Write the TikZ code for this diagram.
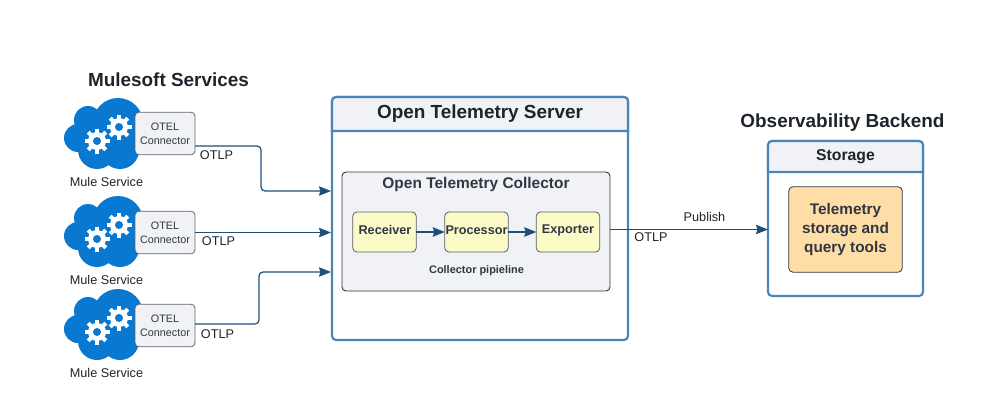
\documentclass[tikz,border=0pt]{standalone}
\usepackage{fontspec}
\setmainfont{Liberation Sans}
\usepackage{xcolor}
\usetikzlibrary{arrows.meta, positioning}
\definecolor{cloudblue}{RGB}{8,120,208}
\definecolor{paneledge}{RGB}{74,132,184}
\definecolor{headgray}{RGB}{240,242,245}
\definecolor{inkdark}{RGB}{30,36,44}
\definecolor{inksoft}{RGB}{48,54,66}
\definecolor{wire}{RGB}{31,78,121}
\definecolor{stagefill}{RGB}{251,251,200}
\definecolor{storefill}{RGB}{255,221,166}
\tikzset{
  title/.style={font=\fontsize{14.2pt}{16pt}\bfseries, text=inkdark, inner sep=0pt},
  caption/.style={font=\fontsize{9.5pt}{11pt}\selectfont, text=inkdark, inner sep=0pt},
  panel/.style={draw=paneledge, line width=1.6pt, rounded corners=3pt, fill=white, outer sep=0pt},
  headbar/.style={draw=paneledge, line width=1.6pt, fill=headgray},
  connbox/.style={draw=gray!80!black, line width=0.6pt, rounded corners=3pt, fill=headgray,
    minimum width=45pt, minimum height=32pt, align=center, inner sep=0pt,
    font=\fontsize{8.1pt}{10.4pt}\selectfont, text=inksoft},
  stagebox/.style={draw=inksoft!80, line width=0.6pt, rounded corners=3pt, fill=stagefill,
    minimum width=47.5pt, minimum height=30pt, inner sep=0pt, outer sep=0pt},
  stagetext/.style={font=\fontsize{9.5pt}{11pt}\bfseries, text=inksoft, inner sep=0pt},
  wireline/.style={draw=wire, line width=0.9pt, rounded corners=3pt,
    -{Stealth[length=9pt,width=7pt,inset=1pt]}},
  pics/mulecloud/.style={code={
    \fill[cloudblue] (18,-12) circle (25) (-12,-15) circle (14) (-22,3) circle (14)
      (-3,15) circle (19) (20,15) circle (19) (5,0) circle (22);
    \foreach \gx/\gy in {-3/6, 19/-8} {
      \fill[white] (\gx,\gy) circle (9);
      \foreach \ang in {0,45,...,315}
        \draw[white, line width=3pt] (\gx,\gy) -- ++(\ang:12.5);
      \fill[cloudblue] (\gx,\gy) circle (4);
    }
  }},
}
\begin{document}
\begin{tikzpicture}[x=0.75pt, y=-0.75pt]
  \useasboundingbox (0,0) rectangle (984,410);

  % services on the left
  \node[title] (muletitle) at (168.5,80) {Mulesoft Services};
  \pic at (100,135) {mulecloud};
  \pic at (100,233) {mulecloud};
  \pic at (100,326) {mulecloud};
  \node[connbox] (connA) at (165,133.5) {OTEL\\Connector};
  \node[connbox] (connB) at (165,232.5) {OTEL\\Connector};
  \node[connbox] (connC) at (165,325.5) {OTEL\\Connector};
  \node[caption] (muleA) at (106.5,182) {Mule Service};
  \node[caption] (muleB) at (106.5,280) {Mule Service};
  \node[caption] (muleC) at (106.5,373) {Mule Service};

  % server
  \node[panel, minimum width=222pt, minimum height=182.25pt] (server) at (480,218.5) {};
  \coordinate (serverbar) at (480,131);
  \draw[headbar] (server.west |- serverbar) [rounded corners=3pt] -- (server.north west)
    -- (server.north east) [sharp corners] -- (server.east |- serverbar) -- cycle;
  \node[title] (servertitle) at (480,113.5) {Open Telemetry Server};

  % collector
  \node[draw=inksoft, line width=0.7pt, rounded corners=3pt, fill=headgray, outer sep=0pt,
    minimum width=201pt, minimum height=89.25pt] (collector) at (476,231.5) {};
  \node[title, font=\fontsize{11.6pt}{14pt}\bfseries, text=inksoft] (collectortitle) at (476,184.5) {Open Telemetry Collector};
  \node[stagebox] (receiver) at (384.5,232) {};
  \node[stagebox] (processor) at (476.5,232) {};
  \node[stagebox] (exporter) at (568,232) {};
  \node[stagetext] (receivertext) at (385,229.5) {Receiver};
  \node[stagetext] (processortext) at (476.5,230.5) {Processor};
  \node[stagetext] (exportertext) at (568,230.5) {Exporter};
  \node[font=\fontsize{8.2pt}{9pt}\bfseries, text=inksoft, inner sep=0pt] (pipeline) at (476.5,271) {Collector pipieline};
  \draw[wireline, line width=1.2pt] (receiver) -- (processor);
  \draw[wireline, line width=1.2pt] (processor) -- (exporter);

  % backend
  \node[title] (backendtitle) at (842.5,123) {Observability Backend};
  \node[panel, minimum width=116.25pt, minimum height=116.25pt] (storage) at (845.5,218.5) {};
  \coordinate (storagebar) at (845,172);
  \draw[headbar] (storage.west |- storagebar) [rounded corners=3pt] -- (storage.north west)
    -- (storage.north east) [sharp corners] -- (storage.east |- storagebar) -- cycle;
  \node[font=\fontsize{11.8pt}{13pt}\bfseries, text=inkdark, inner sep=0pt] (storagetitle) at (845.5,157) {Storage};
  \node[draw=inksoft, line width=0.6pt, rounded corners=3pt, fill=storefill, align=center,
    minimum width=85pt, minimum height=64pt, inner sep=0pt,
    font=\fontsize{11.5pt}{14.2pt}\bfseries, text=inksoft] (tools) at (845.5,229.5) {Telemetry\\storage and\\query tools};

  % connectors
  \coordinate (portA) at (331,191);
  \coordinate (portB) at (331,232.5);
  \coordinate (portC) at (331,272);
  \coordinate (startA) at (195,146);
  \coordinate (startC) at (195,324);
  \draw[wireline] (startA) -- (261,146) -- (261,191) -- (portA);
  \draw[wireline] (connB) -- (portB);
  \draw[wireline] (startC) -- (259,324) -- (259,272) -- (portC);
  \draw[wireline] (collector.east |- tools) -- (storage.west |- tools);
  \node[caption] (otlpA) at (216.5,155) {OTLP};
  \node[caption] (otlpB) at (218.5,241) {OTLP};
  \node[caption] (otlpC) at (217.5,334) {OTLP};
  \node[caption] (otlpD) at (651,237) {OTLP};
  \node[caption] (publish) at (704.5,217) {Publish};
\end{tikzpicture}
\end{document}
